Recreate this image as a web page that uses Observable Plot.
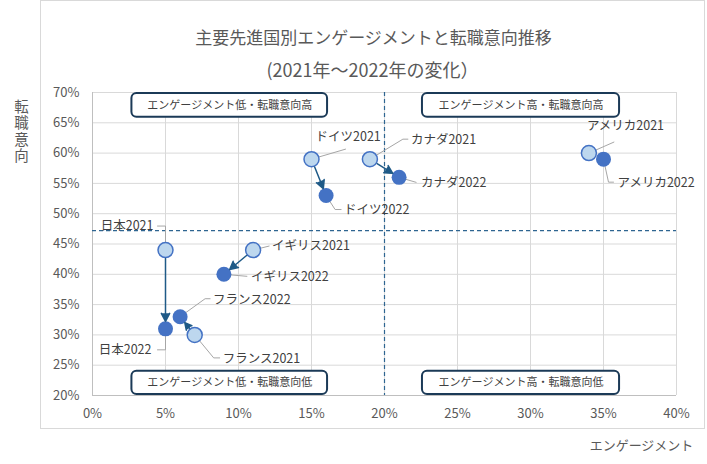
<!DOCTYPE html>
<html><head><meta charset="utf-8">
<script src="https://cdn.jsdelivr.net/npm/d3@7"></script>
<script src="https://cdn.jsdelivr.net/npm/@observablehq/plot@0.6"></script>
<style>body{margin:0;background:#fff;} svg{display:block}</style>
</head><body><div id="chart"></div>
<script>
// ---- data ----
const countries = ["日本", "イギリス", "フランス", "ドイツ", "カナダ", "アメリカ"];
const eng2021 = [5, 11, 7, 15, 19, 34];
const turn2021 = [44, 44, 30, 59, 59, 60];
const eng2022 = [5, 9, 6, 16, 21, 35];
const turn2022 = [31, 40, 33, 53, 56, 59];
const xTicks = [0, 5, 10, 15, 20, 25, 30, 35, 40];
const yTicks = [20, 25, 30, 35, 40, 45, 50, 55, 60, 65, 70];
const engThreshold = 20;
const turnThreshold = 47.2;
const quadrantLabels = ["エンゲージメント低・転職意向高", "エンゲージメント高・転職意向高", "エンゲージメント低・転職意向低", "エンゲージメント高・転職意向低"];
const title = "主要先進国別エンゲージメントと転職意向推移";
const subtitle = "(2021年～2022年の変化）";
const xLabel = "エンゲージメント";
const yLabel = "転職意向";

// ---- layout ----
const W = 707, H = 464, mL = 92, mR = 31, mT = 92, mB = 69;
const kx = (W - mL - mR) / 40, ky = (H - mT - mB) / 50;
// label placement: [textAnchor, dx px, dy px, leader polyline px offsets]
const labelLayout = {
  "日本2021": ["end", -12, -24, [[0, -7], [0, -24], [-8, -24]]],
  "日本2022": ["end", -14, 21, [[0, 7], [0, 21], [-8, 21]]],
  "イギリス2021": ["start", 19, -4, [[0, 0], [16, -4]]],
  "イギリス2022": ["start", 27, 3, [[0, 0], [23, 2]]],
  "フランス2022": ["start", 33, -17, [[0, 0], [25, -18], [30, -18]]],
  "フランス2021": ["start", 28, 24, [[0, 0], [19, 23], [25, 23]]],
  "ドイツ2021": ["start", 4, -22, [[0, 0], [34, -10]]],
  "ドイツ2022": ["start", 18, 14, [[0, 0], [9, 14], [15, 14]]],
  "カナダ2021": ["start", 41, -19, [[0, 0], [33, -20], [38, -20]]],
  "カナダ2022": ["start", 22, 6, [[0, 0], [17, 5]]],
  "アメリカ2021": ["start", -2, -27, [[0, 0], [25, -11]]],
  "アメリカ2022": ["start", 14, 24, [[0, 0], [5, 23], [10, 23]]]
};
const quadBoxes = [
  {x1: 2.7, x2: 16.1, y1: 65.9, y2: 69.85},
  {x1: 22.6, x2: 36.1, y1: 65.9, y2: 69.85},
  {x1: 2.7, x2: 16.1, y1: 20.15, y2: 24.0},
  {x1: 22.6, x2: 36.1, y1: 20.15, y2: 24.0}
].map((b, i) => ({...b, label: quadrantLabels[i]}));

const pts = [];
countries.forEach((c, i) => {
  pts.push({name: c + "2021", year: 2021, x: eng2021[i], y: turn2021[i]});
  pts.push({name: c + "2022", year: 2022, x: eng2022[i], y: turn2022[i]});
});
const labels = pts.map(p => {
  const L = labelLayout[p.name];
  return {...p, anchor: L[0], lx: p.x + L[1] / kx, ly: p.y - L[2] / ky};
});
const leaders = pts.flatMap(p => labelLayout[p.name][3].map(([dx, dy], k) => ({name: p.name, k, x: p.x + dx / kx, y: p.y - dy / ky})));
const moves = countries.map((c, i) => ({c, x1: eng2021[i], y1: turn2021[i], x2: eng2022[i], y2: turn2022[i]}));

const txt = "#595959", dark = "#404040", arrowC = "#1f5a87";
const svg = Plot.plot({
  width: W, height: H,
  marginLeft: mL, marginRight: mR, marginTop: mT, marginBottom: mB,
  style: {fontFamily: '"Noto Sans CJK JP", sans-serif', background: "white"},
  x: {domain: [0, 40]},
  y: {domain: [20, 70]},
  marks: [
    Plot.gridX(xTicks, {stroke: "#d9d9d9", strokeOpacity: 1}),
    Plot.gridY(yTicks, {stroke: "#d9d9d9", strokeOpacity: 1}),
    Plot.ruleY([20], {stroke: "#bfbfbf"}),
    Plot.ruleX([0], {stroke: "#bfbfbf"}),
    Plot.axisX(xTicks, {tickSize: 0, tickPadding: 13, tickFormat: d => d + "%", fontSize: 13, fill: txt, label: null}),
    Plot.axisY(yTicks, {tickSize: 0, tickPadding: 13, tickFormat: d => d + "%", fontSize: 13, fill: txt, label: null}),
    Plot.ruleX([engThreshold], {stroke: "#2e6591", strokeDasharray: "4,3", strokeWidth: 1.2}),
    Plot.ruleY([turnThreshold], {stroke: "#2e6591", strokeDasharray: "4,3", strokeWidth: 1.2}),
    Plot.rect(quadBoxes, {x1: "x1", x2: "x2", y1: "y1", y2: "y2", rx: 5, fill: "white", stroke: "#1b3a57", strokeWidth: 2}),
    Plot.text(quadBoxes, {x: d => (d.x1 + d.x2) / 2, y: d => (d.y1 + d.y2) / 2, text: "label", fontSize: 11, fill: dark}),
    Plot.line(leaders, {x: "x", y: "y", z: "name", stroke: "#a6a6a6", strokeWidth: 1}),
    Plot.dot(pts.filter(d => d.year === 2021), {x: "x", y: "y", r: 7.5, fill: "#bdd7ee", stroke: "#4472c4", strokeWidth: 1.5}),
    Plot.dot(pts.filter(d => d.year === 2022), {x: "x", y: "y", r: 7.5, fill: "#4472c4"}),
    Plot.arrow(moves, {x1: "x1", y1: "y1", x2: "x2", y2: "y2", stroke: arrowC, fill: arrowC, strokeWidth: 1.5, headLength: 9, headAngle: 55, insetStart: 8.5, insetEnd: 7.5}),
    Plot.text(labels.filter(d => d.anchor === "start"), {x: "lx", y: "ly", text: "name", textAnchor: "start", fontSize: 12.5, fill: dark}),
    Plot.text(labels.filter(d => d.anchor === "end"), {x: "lx", y: "ly", text: "name", textAnchor: "end", fontSize: 12.5, fill: dark}),
    Plot.text([title], {frameAnchor: "top", dx: -11, dy: -61, fontSize: 17, fill: txt}),
    Plot.text([subtitle], {frameAnchor: "top", dx: -12, dy: -28, fontSize: 18, fill: txt}),
    Plot.text([yLabel], {frameAnchor: "top-left", dx: -71, dy: 29, textAnchor: "middle", fontSize: 14.5, fill: txt, className: "ylab"}),
    Plot.text([xLabel], {frameAnchor: "bottom-right", dx: -35, dy: 50, textAnchor: "middle", lineAnchor: "middle", fontSize: 13, fill: txt})
  ]
});
// vertical writing for the y-axis title
d3.select(svg).selectAll("g.ylab text")
  .attr("dy", null)
  .style("writing-mode", "vertical-rl")
  .style("text-orientation", "upright")
  .attr("letter-spacing", 1.6);
d3.select(svg).insert("rect", ":first-child")
  .attr("x", 40.5).attr("y", 0.5).attr("width", 664).attr("height", 428)
  .attr("fill", "white").attr("stroke", "#d9d9d9");
document.getElementById("chart").appendChild(svg);
</script>
</body></html>
